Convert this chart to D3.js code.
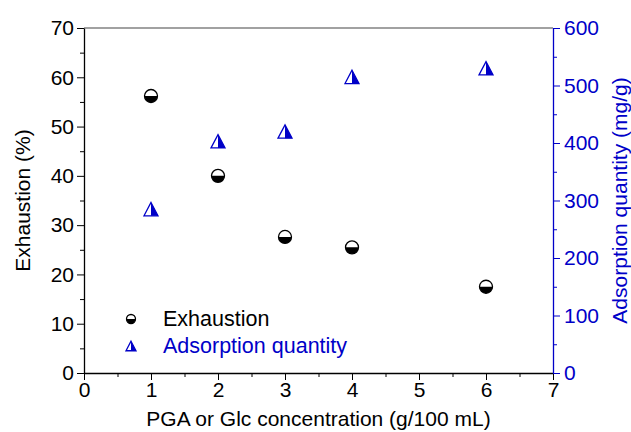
<!DOCTYPE html>
<html>
<head>
<meta charset="utf-8">
<script src="https://cdn.jsdelivr.net/npm/d3@7"></script>
<style>
  body { margin: 0; background: #fff; }
  svg { font-family: "Liberation Sans", Arial, sans-serif; }
</style>
</head>
<body>
<div id="chart"></div>
<script>
const concentrations = [1, 2, 3, 4, 6];
const exhaustion = [56.2, 40.0, 27.6, 25.5, 17.5];
const adsorption = [285, 403, 420, 515, 530];
const xTicks = [0, 1, 2, 3, 4, 5, 6, 7];
const yLeftTicks = [0, 10, 20, 30, 40, 50, 60, 70];
const yRightTicks = [0, 100, 200, 300, 400, 500, 600];

const width = 631, height = 432;
const margin = { top: 28, right: 78, bottom: 59, left: 84 };
const blue = "#0000c8";
const fs = 21;

const svg = d3.select("#chart").append("svg")
  .attr("width", width)
  .attr("height", height);

const x = d3.scaleLinear().domain([0, 7]).range([margin.left, width - margin.right]);
const yL = d3.scaleLinear().domain([0, 70]).range([height - margin.bottom, margin.top]);
const yR = d3.scaleLinear().domain([0, 600]).range([height - margin.bottom, margin.top]);

// top frame line
svg.append("line")
  .attr("x1", x(0)).attr("x2", x(7))
  .attr("y1", yL(70)).attr("y2", yL(70))
  .attr("stroke", "#444").attr("stroke-width", 1.2);

// minor ticks first
function minor(axis, vals) {
  return axis.tickValues(vals).tickSize(4).tickFormat("");
}
svg.append("g").attr("transform", `translate(0,${yL(0)})`)
  .call(minor(d3.axisBottom(x), d3.range(0.5, 7, 1)))
  .call(g => g.select(".domain").remove());
svg.append("g").attr("transform", `translate(${x(0)},0)`)
  .call(minor(d3.axisLeft(yL), d3.range(5, 70, 10)))
  .call(g => g.select(".domain").remove());
svg.append("g").attr("transform", `translate(${x(7)},0)`)
  .call(minor(d3.axisRight(yR), d3.range(50, 600, 100)))
  .call(g => g.select(".domain").remove())
  .selectAll("line").attr("stroke", blue);

// major axes
const gx = svg.append("g").attr("transform", `translate(0,${yL(0)})`)
  .call(d3.axisBottom(x).tickValues(xTicks).tickFormat(d3.format("d"))
    .tickSize(7).tickSizeOuter(0).tickPadding(2));
const gl = svg.append("g").attr("transform", `translate(${x(0)},0)`)
  .call(d3.axisLeft(yL).tickValues(yLeftTicks).tickSize(7).tickSizeOuter(0).tickPadding(3));
const gr = svg.append("g").attr("transform", `translate(${x(7)},0)`)
  .call(d3.axisRight(yR).tickValues(yRightTicks).tickSize(7).tickSizeOuter(0).tickPadding(4));

[gx, gl, gr].forEach(g => {
  g.selectAll("text").attr("font-size", fs).attr("font-family", "Liberation Sans, Arial, sans-serif");
  g.select(".domain").attr("stroke-width", 1.3);
});
gx.select(".domain").attr("stroke", "#000");
gr.selectAll("text").attr("fill", blue);
gr.selectAll("line").attr("stroke", blue);
gr.select(".domain").attr("stroke", blue);

// axis titles
svg.append("text")
  .attr("x", (x(0) + x(7)) / 2).attr("y", 426)
  .attr("text-anchor", "middle").attr("font-size", fs)
  .text("PGA or Glc concentration (g/100 mL)");
svg.append("text")
  .attr("transform", `translate(30,${(yL(0) + yL(70)) / 2}) rotate(-90)`)
  .attr("text-anchor", "middle").attr("font-size", fs)
  .text("Exhaustion (%)");
svg.append("text")
  .attr("transform", `translate(627,${(yL(0) + yL(70)) / 2}) rotate(-90)`)
  .attr("text-anchor", "middle").attr("font-size", fs).attr("fill", blue)
  .text("Adsorption quantity (mg/g)");

// half-filled circle marker
function halfCircle(g, r) {
  g.append("path")
    .attr("d", d3.arc()({ innerRadius: 0, outerRadius: r, startAngle: Math.PI / 2, endAngle: Math.PI * 1.5 }))
    .attr("fill", "#000");
  g.append("circle").attr("r", r).attr("fill", "none").attr("stroke", "#000").attr("stroke-width", 1.3);
}
// half-filled triangle marker
function halfTriangle(g, s) {
  const h = s * 0.95;
  g.append("path")
    .attr("d", `M0,${-h / 2}L${s / 2},${h / 2}L0,${h / 2}Z`)
    .attr("fill", blue);
  g.append("path")
    .attr("d", `M0,${-h / 2}L${s / 2},${h / 2}L${-s / 2},${h / 2}Z`)
    .attr("fill", "none").attr("stroke", blue).attr("stroke-width", 1.3)
    .attr("stroke-linejoin", "miter");
}

const points = concentrations.map((c, i) => ({ c, e: exhaustion[i], a: adsorption[i] }));

svg.append("g").selectAll("g")
  .data(points).join("g")
  .attr("transform", d => `translate(${x(d.c)},${yL(d.e)})`)
  .each(function() { halfCircle(d3.select(this), 6.5); });

svg.append("g").selectAll("g")
  .data(points).join("g")
  .attr("transform", d => `translate(${x(d.c)},${yR(d.a)})`)
  .each(function() { halfTriangle(d3.select(this), 14); });

// legend
const legend = svg.append("g");
halfCircle(legend.append("g").attr("transform", "translate(131,319)"), 4.5);
halfTriangle(legend.append("g").attr("transform", "translate(131,346)"), 10);
legend.append("text").attr("x", 163).attr("y", 326).attr("font-size", 21.5).text("Exhaustion");
legend.append("text").attr("x", 163).attr("y", 353).attr("font-size", 21.5).attr("fill", blue).text("Adsorption quantity");
</script>
</body>
</html>
